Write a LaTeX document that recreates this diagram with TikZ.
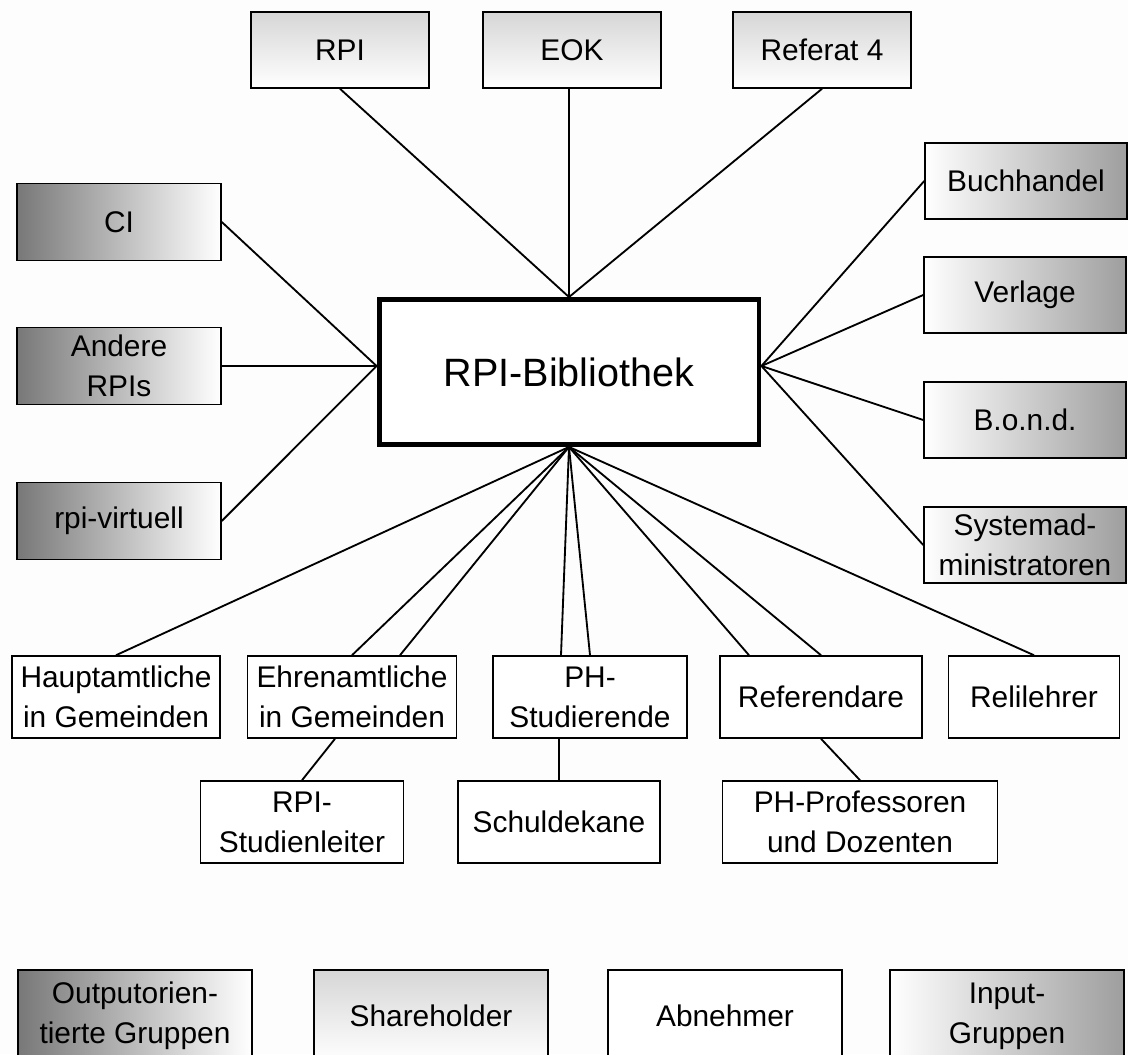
\documentclass[tikz,border=0pt]{standalone}
\usepackage{fontspec}
\setmainfont{Liberation Sans}
\usetikzlibrary{calc}
\definecolor{LeftShadeClr}{gray}{0.47}
\definecolor{RightShadeClr}{gray}{0.62}
\definecolor{TopShadeClr}{gray}{0.84}
\definecolor{BackClr}{gray}{0.992}

\begin{document}
\begin{tikzpicture}[x=0.02cm,y=-0.02cm,
  box/.style={draw=black,line width=0.9pt,inner sep=0pt,align=center,
    font=\fontsize{17}{22.8}\selectfont},
  topbox/.style={box,top color=TopShadeClr,bottom color=white,
    minimum width=3.56cm,minimum height=1.52cm},
  leftbox/.style={box,left color=LeftShadeClr,right color=white,
    minimum width=4.08cm,minimum height=1.54cm},
  rightbox/.style={box,left color=white,right color=RightShadeClr,
    minimum width=4.04cm,minimum height=1.52cm},
  userbox/.style={box,fill=white,minimum height=1.64cm},
  keybox/.style={minimum width=4.68cm,minimum height=1.84cm},
  link/.style={draw=black,line width=1.05pt}]
\useasboundingbox (0,0) rectangle (1128,1054);
\clip (0,0) rectangle (1128,1054);
\fill[BackClr] (0,0) rectangle (1128,1054);

% centre
\node[box,fill=white,line width=2.8pt,minimum width=7.6cm,minimum height=2.9cm,
  font=\fontsize{22.5}{27}\selectfont] (bib) at (569,372) {RPI-Bibliothek};

% shareholder
\node[topbox] (rpi) at (340,50) {RPI};
\node[topbox] (eok) at (572,50) {EOK};
\node[topbox] (ref4) at (822,50) {Referat 4};

% output
\node[leftbox] (ci) at (119,222) {CI};
\node[leftbox] (andere) at (119,366) {Andere\\RPIs};
\node[leftbox] (virtuell) at (119,521) {rpi-virtuell};

% input
\node[rightbox] (buch) at (1026,181) {Buchhandel};
\node[rightbox] (verlage) at (1025,295) {Verlage};
\node[rightbox] (bond) at (1025,420) {B.o.n.d.};
\node[rightbox] (sysadm) at (1025,545) {Systemad-\\ministratoren};

% abnehmer
\node[userbox,minimum width=4.16cm] (haupt) at (116,697) {Hauptamtliche\\in Gemeinden};
\node[userbox,minimum width=4.18cm] (ehren) at (352,697) {Ehrenamtliche\\in Gemeinden};
\node[userbox,minimum width=3.88cm] (phstud) at (590,697) {PH-\\Studierende};
\node[userbox,minimum width=4.04cm] (referend) at (821,697) {Referendare};
\node[userbox,minimum width=3.42cm] (reli) at (1034,697) {Relilehrer};
\node[userbox,minimum width=4.06cm] (studl) at (302,822) {RPI-\\Studienleiter};
\node[userbox,minimum width=4.04cm] (dekane) at (559,822) {Schuldekane};
\node[userbox,minimum width=5.5cm] (phprof) at (860,822) {PH-Professoren\\und Dozenten};

\coordinate (bibW) at (bib.west |- andere.east);
\coordinate (bibE) at (bib.east |- andere.east);

\draw[link] (bib.north) -- (rpi.south);
\draw[link] (bib.north) -- (bib.north |- eok.south);
\draw[link] (bib.north) -- (ref4.south);
\foreach \n in {ci,andere,virtuell}
  \draw[link] (bibW) -- (\n.east);
\foreach \n in {buch,verlage,bond,sysadm}
  \draw[link] (bibE) -- (\n.west);
\draw[link] (bib.south) -- (haupt.north);
\draw[link] (bib.south) -- (ehren.north);
\draw[link] (bib.south) -- ($(ehren.north)+(48,0)$);
\draw[link] (bib.south) -- ($(phstud.north)+(-29,0)$);
\draw[link] (bib.south) -- (phstud.north);
\draw[link] (bib.south) -- ($(referend.north)+(-72,0)$);
\draw[link] (bib.south) -- (referend.north);
\draw[link] (bib.south) -- (reli.north);
\draw[link] ($(ehren.south)+(-17,0)$) -- (studl.north);
\draw[link] (dekane.north) -- (dekane.north |- phstud.south);
\draw[link] (referend.south) -- (phprof.north);

% legende
\node[leftbox,keybox] (kout) at (135,1016) {Outputorien-\\tierte Gruppen};
\node[topbox,keybox] (kshare) at (431,1016) {Shareholder};
\node[userbox,keybox] (kabn) at (725,1016) {Abnehmer};
\node[rightbox,keybox] (kin) at (1007,1016) {Input-\\Gruppen};
\end{tikzpicture}
\end{document}
